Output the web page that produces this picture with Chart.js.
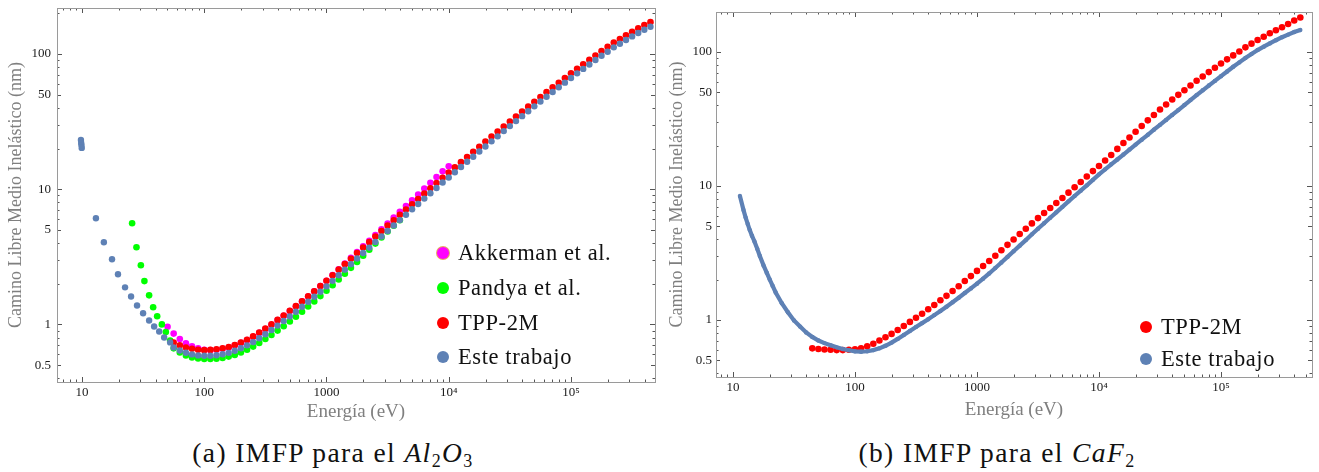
<!DOCTYPE html>
<html>
<head>
<meta charset="utf-8">
<script src="https://cdn.jsdelivr.net/npm/chart.js@4.4.1/dist/chart.umd.min.js"></script>
<style>
  body { margin: 0; background: #fff; width: 1319px; height: 472px; position: relative; overflow: hidden;
         font-family: 'Liberation Serif', 'Times New Roman', serif; }
  #chartA { position: absolute; left: 0; top: 0; }
  #chartB { position: absolute; left: 660px; top: 0; }
  .item { position: absolute; display: flex; align-items: center; height: 24px; font-size: 22.5px; color: #111;
          white-space: nowrap; letter-spacing: 0.6px; }
  .dot { width: 12px; height: 12px; border-radius: 50%; margin-right: 9px; flex: none; }
  .caption { position: absolute; top: 437px; font-size: 27.5px; color: #111; white-space: nowrap;
             transform: translateX(-50%); letter-spacing: 1.4px; }
  .caption sub { font-size: 18px; vertical-align: -5px; line-height: 0; }
</style>
</head>
<body>
<canvas id="chartA" width="665" height="425"></canvas>
<canvas id="chartB" width="659" height="425"></canvas>

<div class="item" style="left:437px; top:241px;"><span class="dot" style="background:#ff00ff; box-shadow:0 0 0 1px #e8a860;"></span>Akkerman et al.</div>
<div class="item" style="left:437px; top:276px;"><span class="dot" style="background:#00ff00;"></span>Pandya et al.</div>
<div class="item" style="left:437px; top:311px;"><span class="dot" style="background:#ff0000;"></span>TPP-2M</div>
<div class="item" style="left:437px; top:345px;"><span class="dot" style="background:#5e81b5;"></span>Este trabajo</div>

<div class="item" style="left:1140px; top:315px;"><span class="dot" style="background:#ff0000;"></span>TPP-2M</div>
<div class="item" style="left:1140px; top:347px;"><span class="dot" style="background:#5e81b5;"></span>Este trabajo</div>

<div class="caption" style="left:333px;">(a) IMFP para el <i>Al</i><sub>2</sub><i>O</i><sub>3</sub></div>
<div class="caption" style="left:997px;">(b) IMFP para el <i>CaF</i><sub>2</sub></div>

<script>
var serif = "'Liberation Serif', 'Times New Roman', serif";

// tick labels (both plots)
var xTickVals = [10, 100, 1000, 10000, 100000];
var xTickLabels = ['10', '100', '1000', '10\u2074', '10\u2075'];
var yTickVals = [0.5, 1, 5, 10, 50, 100];
var yTickLabels = ['0.5', '1', '5', '10', '50', '100'];

// ---- (a) Al2O3 ----
// common energy grid (eV)
var energiaA = [50.1, 56.2, 63.1, 70.8, 79.4, 89.1,
  100, 112.2, 125.9, 141.3, 158.5, 177.8, 199.5, 223.9, 251.2, 281.8, 316.2, 354.8, 398.1, 446.7, 501.2, 562.3, 631, 707.9, 794.3, 891.3,
  1000, 1122, 1259, 1413, 1585, 1778, 1995, 2239, 2512, 2818, 3162, 3548, 3981, 4467, 5012, 5623, 6310, 7079, 7943, 8913,
  10000, 11220, 12590, 14130, 15850, 17780, 19950, 22390, 25120, 28180, 31620, 35480, 39810, 44670, 50120, 56230, 63100, 70790, 79430, 89130,
  100000, 112200, 125900, 141300, 158500, 177800, 199500, 223900, 251200, 281800, 316200, 354800, 398100, 446700];

var akkermanA = [0.96, 0.855, 0.78, 0.725, 0.69, 0.665,
  0.65, 0.645, 0.65, 0.66, 0.675, 0.70, 0.73, 0.765, 0.81, 0.865, 0.925, 0.995, 1.075, 1.16, 1.255, 1.36, 1.48, 1.61, 1.755, 1.92,
  2.10, 2.32, 2.56, 2.82, 3.11, 3.43, 3.78, 4.16, 4.59, 5.06, 5.58, 6.16, 6.80, 7.50, 8.28, 9.14, 10.1, 11.15, 12.3, 13.55,
  14.8];

var pandyaLowE = [25.7, 27.9, 30.3, 32.4, 35.4, 38.2, 41.2, 45.0, 48.5, 52.6];
var pandyaLowV = [5.6, 3.72, 2.74, 2.09, 1.64, 1.34, 1.15, 1.0, 0.877, 0.76];
var pandyaA = [null, 0.665, 0.62, 0.59, 0.57, 0.56,
  0.555, 0.555, 0.558, 0.565, 0.578, 0.595, 0.62, 0.65, 0.685, 0.73, 0.78, 0.835, 0.90, 0.97, 1.05, 1.14, 1.24, 1.355, 1.48, 1.62,
  1.775, 1.95, 2.15, 2.37, 2.62, 2.90, 3.22, 3.57, 3.96, 4.40, 4.86, 5.36, 5.90];

var tppA = [null, 0.735, 0.70, 0.675, 0.66, 0.65,
  0.645, 0.648, 0.655, 0.665, 0.68, 0.705, 0.735, 0.77, 0.815, 0.87, 0.93, 1.00, 1.08, 1.165, 1.26, 1.365, 1.485, 1.615, 1.76, 1.92,
  2.10, 2.31, 2.54, 2.79, 3.06, 3.37, 3.70, 4.06, 4.46, 4.90, 5.38, 5.90, 6.46, 7.07, 7.74, 8.47, 9.27, 10.15, 11.1, 12.15,
  13.3, 14.5, 15.85, 17.3, 18.9, 20.6, 22.5, 24.5, 26.7, 29.1, 31.7, 34.5, 37.5, 40.8, 44.3, 48.1, 52.2, 56.6, 61.3, 66.4,
  71.9, 77.7, 83.9, 90.5, 97.5, 105, 113, 121.5, 129, 137.5, 146, 155, 164, 172];

var esteLowE = [9.8, 9.85, 9.9, 9.95, 13.0, 15.1, 17.6, 19.7, 22.5, 25.2, 28.2, 31.6, 35.4, 38.9, 42.8, 47.0, 52.6];
var esteLowV = [23.1, 22.0, 21.2, 20.2, 6.1, 4.05, 3.03, 2.35, 1.88, 1.61, 1.38, 1.21, 1.07, 0.966, 0.887, 0.80, 0.736];
var esteA = [null, 0.676, 0.641, 0.617, 0.60, 0.59,
  0.587, 0.587, 0.592, 0.602, 0.616, 0.638, 0.666, 0.70, 0.74, 0.79, 0.845, 0.91, 0.98, 1.06, 1.145, 1.24, 1.35, 1.47, 1.60, 1.745,
  1.91, 2.10, 2.31, 2.54, 2.79, 3.07, 3.37, 3.70, 4.07, 4.47, 4.91, 5.39, 5.91, 6.48, 7.10, 7.78, 8.52, 9.33, 10.2, 11.2,
  12.2, 13.35, 14.6, 15.95, 17.4, 19.0, 20.7, 22.6, 24.6, 26.9, 29.3, 31.9, 34.7, 37.7, 41.0, 44.5, 48.3, 52.4, 56.7, 61.4,
  66.5, 71.9, 77.6, 83.7, 90.2, 97.0, 104, 112, 119, 127, 135, 143, 151, 159];

// ---- (b) CaF2 ----
var energiaB = [22.39, 25.12, 28.18, 31.62, 35.48, 39.81, 44.67, 50.12, 56.23, 63.1, 70.79, 79.43, 89.13,
  100, 112.2, 125.9, 141.3, 158.5, 177.8, 199.5, 223.9, 251.2, 281.8, 316.2, 354.8, 398.1, 446.7, 501.2, 562.3, 631, 707.9, 794.3, 891.3,
  1000, 1122, 1259, 1413, 1585, 1778, 1995, 2239, 2512, 2818, 3162, 3548, 3981, 4467, 5012, 5623, 6310, 7079, 7943, 8913,
  10000, 11220, 12590, 14130, 15850, 17780, 19950, 22390, 25120, 28180, 31620, 35480, 39810, 44670, 50120, 56230, 63100, 70790, 79430, 89130,
  100000, 112200, 125900, 141300, 158500, 177800, 199500, 223900, 251200, 281800, 316200, 354800, 398100, 446700];

var tppB = [null, null, null, null, null, null, 0.612, 0.605, 0.60, 0.597, 0.594, 0.594, 0.597,
  0.603, 0.612, 0.635, 0.662, 0.70, 0.74, 0.785, 0.84, 0.90, 0.965, 1.035, 1.11, 1.20, 1.29, 1.40, 1.51, 1.64, 1.78, 1.95, 2.12,
  2.32, 2.52, 2.75, 3.01, 3.31, 3.63, 3.98, 4.37, 4.79, 5.25, 5.75, 6.27, 6.84, 7.46, 8.13, 8.91, 9.77, 10.7, 11.75, 12.9,
  14.1, 15.5, 17.0, 18.9, 20.9, 23.0, 25.4, 28.0, 30.9, 33.9, 37.2, 40.6, 44.2, 47.9, 51.9, 56.2, 61.0, 65.7, 70.8, 76.3,
  82.2, 88.2, 94.4, 101, 108.4, 115.5, 123, 130, 138, 145.5, 153, 162, 172, 181];

var esteLowEB = [11.4, 12.2, 12.7, 13.2, 13.7, 14.3, 15.0, 15.8, 16.6, 17.8, 18.9, 20.0, 21.1];
var esteLowVB = [8.4, 6.6, 5.8, 5.2, 4.7, 4.25, 3.85, 3.4, 3.0, 2.55, 2.25, 2.0, 1.8];
var esteB = [1.60, 1.33, 1.14, 0.99, 0.89, 0.805, 0.745, 0.70, 0.67, 0.645, 0.623, 0.606, 0.592,
  0.582, 0.578, 0.582, 0.594, 0.612, 0.64, 0.676, 0.72, 0.77, 0.825, 0.885, 0.945, 1.01, 1.084, 1.164, 1.253, 1.352, 1.462, 1.585, 1.716,
  1.86, 2.03, 2.22, 2.44, 2.68, 2.95, 3.25, 3.58, 3.94, 4.35, 4.79, 5.26, 5.78, 6.35, 6.98, 7.67, 8.41, 9.22, 10.1, 11.1,
  12.2, 13.3, 14.5, 15.75, 17.15, 18.7, 20.35, 22.15, 24.1, 26.3, 28.6, 31.1, 33.9, 36.9, 40.2, 43.8, 47.7, 51.8, 56.2, 60.9,
  66.0, 71.6, 77.6, 83.7, 90.2, 96.6, 103.5, 109.6, 116, 122.5, 129, 135, 141, 146];


function pts(es, vs) {
  return es.map(function(e, i) { return {x: e, y: vs[i]}; })
           .filter(function(p) { return p.y != null; });
}

// marks on the frame, inward like Mathematica
function frameMarks(lo, hi, fiveLong) {
  var out = [];
  for (var d = Math.floor(Math.log10(lo)); d <= Math.ceil(Math.log10(hi)); d++) {
    var b = Math.pow(10, d);
    out.push({v: b, len: 5});
    [2, 3, 4, 5, 6, 7, 8, 9].forEach(function(m) {
      out.push({v: m * b, len: (m == 5 && fiveLong) ? 4 : 2.5});
    });
  }
  return out.filter(function(t) { return t.v >= lo && t.v <= hi; });
}

var frameTicks = {
  id: 'frameTicks',
  afterDatasetsDraw: function(chart) {
    var ctx = chart.ctx, a = chart.chartArea, sx = chart.scales.x, sy = chart.scales.y;
    ctx.save();
    ctx.lineWidth = 1;
    ctx.strokeStyle = '#555';
    ctx.beginPath();
    frameMarks(sx.min, sx.max, false).forEach(function(t) {
      var px = Math.round(sx.getPixelForValue(t.v)) + 0.5;
      ctx.moveTo(px, a.bottom); ctx.lineTo(px, a.bottom - t.len);
      ctx.moveTo(px, a.top); ctx.lineTo(px, a.top + t.len);
    });
    frameMarks(sy.min, sy.max, true).forEach(function(t) {
      var py = Math.round(sy.getPixelForValue(t.v)) + 0.5;
      ctx.moveTo(a.left, py); ctx.lineTo(a.left + t.len, py);
      ctx.moveTo(a.right, py); ctx.lineTo(a.right - t.len, py);
    });
    ctx.stroke();
    ctx.strokeStyle = '#9a9a9a';
    ctx.strokeRect(Math.round(a.left) + 0.5, Math.round(a.top) + 0.5, Math.round(a.right - a.left), Math.round(a.bottom - a.top));
    ctx.restore();
  }
};

function makeChart(id, datasets, box) {
  return new Chart(document.getElementById(id), {
    type: 'scatter',
    data: { datasets: datasets },
    plugins: [frameTicks],
    options: {
      responsive: false,
      animation: false,
      events: [],
      layout: { padding: { left: 0, top: box.top, right: box.right, bottom: 0 } },
      plugins: { legend: { display: false }, tooltip: { enabled: false } },
      scales: {
        x: {
          type: 'logarithmic', min: box.xmin, max: box.xmax,
          afterBuildTicks: function(s) { s.ticks = xTickVals.map(function(v) { return {value: v}; }); },
          afterFit: function(s) { s.height = box.xh; s.paddingLeft = 0; s.paddingRight = 0; },
          grid: { display: false, drawTicks: false },
          border: { display: false },
          ticks: { autoSkip: false, maxRotation: 0, padding: 3, color: '#1a1a1a', font: { family: serif, size: 13 },
                   callback: function(v, i) { return xTickLabels[i]; } },
          title: { display: true, text: 'Energía (eV)', color: '#7f7f7f', font: { family: serif, size: 19 },
                   padding: { top: 0, bottom: box.xtp } }
        },
        y: {
          type: 'logarithmic', min: box.ymin, max: box.ymax,
          afterBuildTicks: function(s) { s.ticks = yTickVals.map(function(v) { return {value: v}; }); },
          afterFit: function(s) { s.width = box.yw; s.paddingTop = 0; s.paddingBottom = 0; },
          grid: { display: false, drawTicks: false },
          border: { display: false },
          ticks: { autoSkip: false, padding: box.ypad, color: '#1a1a1a', font: { family: serif, size: 13 },
                   callback: function(v, i) { return yTickLabels[i]; } },
          title: { display: true, text: 'Camino Libre Medio Inelástico (nm)', color: '#7f7f7f', font: { family: serif, size: 18 },
                   padding: { top: box.ytp, bottom: 0 } }
        }
      }
    }
  });
}

function dots(label, data, color, r) {
  return { label: label, data: data, backgroundColor: color, borderWidth: 0, pointRadius: r, pointBorderWidth: 0 };
}

// first dataset ends up on top
makeChart('chartA', [
  dots('Este trabajo', pts(esteLowE, esteLowV).concat(pts(energiaA, esteA)), '#5e81b5', 3.2),
  dots('TPP-2M', pts(energiaA, tppA), '#ff0000', 3.3),
  dots('Pandya et al.', pts(pandyaLowE, pandyaLowV).concat(pts(energiaA, pandyaA)), '#00ff00', 3.3),
  dots('Akkerman et al.', pts(energiaA, akkermanA), '#ff00ff', 3.3)
], { top: 8, right: 10, xh: 43, yw: 57, xmin: 6.245, xmax: 486600, ymin: 0.375, ymax: 218.9, xtp: 2, ytp: 5, ypad: 6 });

var esteLineB = dots('Este trabajo', pts(esteLowEB, esteLowVB).concat(pts(energiaB, esteB)), '#5e81b5', 2.2);
esteLineB.showLine = true;
esteLineB.borderColor = '#5e81b5';
esteLineB.borderWidth = 4.2;

makeChart('chartB', [
  esteLineB,
  dots('TPP-2M', pts(energiaB, tppB), '#ff0000', 3.3)
], { top: 12, right: 7, xh: 48, yw: 56, xmin: 7.257, xmax: 556900, ymin: 0.374, ymax: 199.1, xtp: 4, ytp: 6, ypad: 4 });
</script>
</body>
</html>
